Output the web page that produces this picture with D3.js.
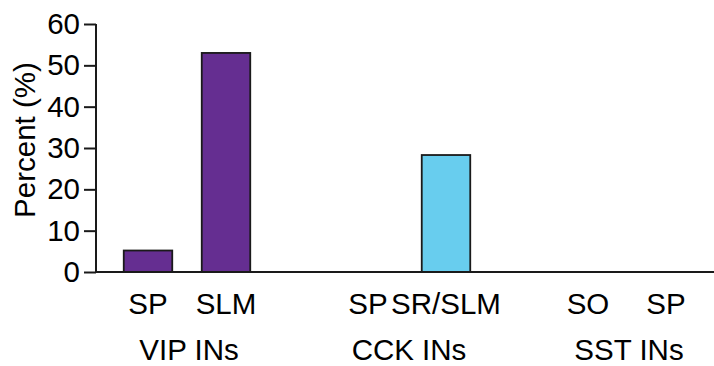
<!DOCTYPE html>
<html>
<head>
<meta charset="utf-8">
<script src="https://cdn.jsdelivr.net/npm/d3@7"></script>
<style>
  html, body { margin: 0; padding: 0; background: #fff; }
  svg { display: block; }
  text { font-family: "Liberation Sans", Arial, sans-serif; fill: #000; }
</style>
</head>
<body>
<svg id="chart" width="714" height="366"></svg>
<script>
// Interneuron types and the layer of each bar within its type
const groups = ["VIP INs", "CCK INs", "SST INs"];
const layers = [["SP", "SLM"], ["SP", "SR/SLM"], ["SO", "SP"]];
// Percent of cells per layer
const percents = [[5.2, 53], [0, 28.3], [0, 0]];
const groupColors = ["#652e91", "#68cdee", "#9a9a9a"];
const yTicks = [0, 10, 20, 30, 40, 50, 60];

const svg = d3.select("#chart");
const W = 714;
const axisX = 96, yTop = 24, yBottom = 272;

const y = d3.scaleLinear().domain([0, 60]).range([yBottom, yTop]);
const xGroup = d3.scalePoint().domain(groups).range([187, 627]);
const xInner = d3.scalePoint().domain([0, 1]).range([-39, 39]);
const barW = 48.5;

const bars = [];
groups.forEach((g, gi) => {
  layers[gi].forEach((l, li) => {
    bars.push({ group: g, gi, layer: l, li, value: percents[gi][li] });
  });
});

// Bars (zero-height entries are not drawn)
svg.append("g").selectAll("rect")
  .data(bars.filter(d => d.value > 0))
  .join("rect")
  .attr("x", d => xGroup(d.group) + xInner(d.li) - barW / 2)
  .attr("y", d => y(d.value))
  .attr("width", barW)
  .attr("height", d => y(0) - y(d.value))
  .attr("fill", d => groupColors[d.gi])
  .attr("stroke", "#1a1a1a")
  .attr("stroke-width", 1.8);

// Y axis
const yAxis = d3.axisLeft(y).tickValues(yTicks).tickSize(12).tickPadding(4);
const yg = svg.append("g").attr("transform", `translate(${axisX},0)`).call(yAxis);
yg.select(".domain").attr("stroke", "#1a1a1a").attr("stroke-width", 2)
  .attr("d", `M0,${yTop}V${yBottom}`);
yg.selectAll(".tick line").attr("stroke", "#1a1a1a").attr("stroke-width", 2);
yg.selectAll(".tick text")
  .style("font-family", "'Liberation Sans', Arial, sans-serif")
  .style("font-size", "29.5px").attr("fill", "#000");

// Baseline across the full width
svg.append("line")
  .attr("x1", axisX).attr("x2", W)
  .attr("y1", y(0)).attr("y2", y(0))
  .attr("stroke", "#1a1a1a").attr("stroke-width", 2);

// Layer labels
svg.append("g").selectAll("text")
  .data(bars)
  .join("text")
  .attr("x", d => xGroup(d.group) + xInner(d.li))
  .attr("y", 314)
  .attr("text-anchor", "middle")
  .style("font-size", "29.5px")
  .text(d => d.layer);

// Group labels
svg.append("g").selectAll("text")
  .data(groups)
  .join("text")
  .attr("x", d => xGroup(d) + 2)
  .attr("y", 360)
  .attr("text-anchor", "middle")
  .style("font-size", "29.5px")
  .text(d => d);

// Y axis title
svg.append("text")
  .attr("transform", "translate(35,140) rotate(-90)")
  .attr("text-anchor", "middle")
  .style("font-size", "29.5px")
  .text("Percent (%)");
</script>
</body>
</html>
